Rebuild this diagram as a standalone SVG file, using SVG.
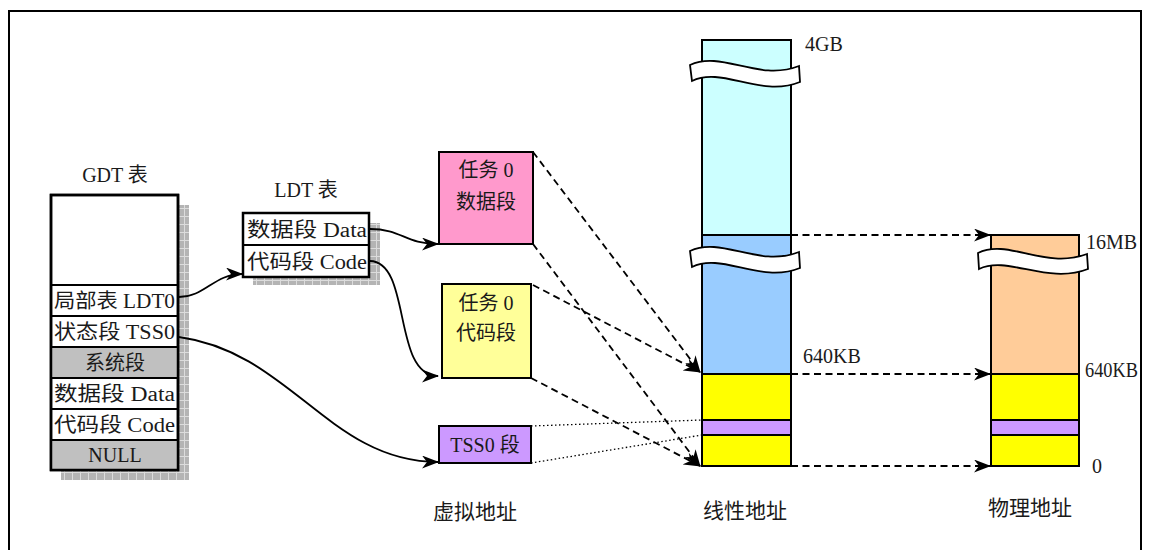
<svg xmlns="http://www.w3.org/2000/svg" width="1151" height="550" viewBox="0 0 1151 550">
<style>
text{font-family:'Liberation Serif','Noto Sans CJK SC',serif;font-size:20px;fill:#1a1a1a}
.lbl{font-size:20px}
.bot{font-size:21px}
.box{stroke:#000;stroke-width:2.5}
.thin{stroke:#000;stroke-width:2}
.conn{fill:none;stroke:#000;stroke-width:1.8}
.dash{fill:none;stroke:#000;stroke-width:1.8;stroke-dasharray:7,4.5}
.dot{fill:none;stroke:#000;stroke-width:1.3;stroke-dasharray:1.5,2.5}
.brk{fill:#fff;stroke:#000;stroke-width:1.8}
</style>
<defs>
<pattern id="hatch" width="8" height="8" patternUnits="userSpaceOnUse">
<rect width="8" height="8" fill="#b4b4b4"/>
<path d="M0,0.5H8M0.5,0V8" stroke="#dcdcdc" stroke-width="1"/>
</pattern>
<marker id="ah" markerWidth="17" markerHeight="13" refX="16" refY="6.5" orient="auto" markerUnits="userSpaceOnUse">
<path d="M0,0 L17,6.5 L0,13 L5,6.5 Z" fill="#000"/>
</marker>
</defs>
<rect x="9" y="11" width="1132" height="580" fill="none" stroke="#000" stroke-width="2"/>

<g id="gdt">
<text x="115" y="182" text-anchor="middle">GDT 表</text>
<rect x="61" y="205" width="128" height="275" fill="url(#hatch)"/>
<rect x="51" y="195" width="127" height="275" fill="#fff" class="box"/>
<rect x="51" y="347" width="127" height="31" fill="#c0c0c0"/>
<rect x="51" y="440" width="127" height="30" fill="#c0c0c0"/>
<path d="M51,285H178M51,316H178M51,347H178M51,378H178M51,409H178M51,440H178" class="thin" fill="none"/>
<rect x="51" y="195" width="127" height="275" fill="none" class="box"/>
<text x="54" y="308" textLength="121" lengthAdjust="spacingAndGlyphs">局部表 LDT0</text>
<text x="54" y="339" textLength="121" lengthAdjust="spacingAndGlyphs">状态段 TSS0</text>
<text x="115" y="370" text-anchor="middle">系统段</text>
<text x="54" y="401" textLength="121" lengthAdjust="spacingAndGlyphs">数据段 Data</text>
<text x="54" y="432" textLength="121" lengthAdjust="spacingAndGlyphs">代码段 Code</text>
<text x="115" y="462" text-anchor="middle">NULL</text>
</g>

<g id="ldt">
<text x="306" y="197" text-anchor="middle">LDT 表</text>
<rect x="253" y="223" width="127" height="62" fill="url(#hatch)"/>
<rect x="243" y="213" width="126" height="64" fill="#fff" class="box"/>
<path d="M243,245H369" class="thin"/>
<text x="247" y="237" textLength="120" lengthAdjust="spacingAndGlyphs">数据段 Data</text>
<text x="247" y="269" textLength="120" lengthAdjust="spacingAndGlyphs">代码段 Code</text>
</g>

<g id="task0-data">
<rect x="439" y="152" width="94" height="92" fill="#ff99cc" stroke="#000" stroke-width="2"/>
<text x="486" y="177" text-anchor="middle">任务 0</text>
<text x="486" y="209" text-anchor="middle">数据段</text>
</g>
<g id="task0-code">
<rect x="442" y="284" width="89" height="94" fill="#ffff99" stroke="#000" stroke-width="2"/>
<text x="486" y="310" text-anchor="middle">任务 0</text>
<text x="486" y="340" text-anchor="middle">代码段</text>
</g>
<g id="tss0">
<rect x="439" y="426" width="92" height="37" fill="#cc99ff" stroke="#000" stroke-width="2"/>
<text x="485" y="452" text-anchor="middle">TSS0 段</text>
</g>

<g id="linear">
<rect x="702" y="40" width="89" height="195" fill="#ccffff"/>
<rect x="702" y="235" width="89" height="139" fill="#99ccff"/>
<rect x="702" y="374" width="89" height="46" fill="#ffff00"/>
<rect x="702" y="420" width="89" height="15" fill="#cc99ff"/>
<rect x="702" y="435" width="89" height="31" fill="#ffff00"/>
<path d="M702,235H791M702,374H791M702,420H791M702,435H791" class="thin"/>
<rect x="702" y="40" width="89" height="426" fill="none" class="thin"/>
<path class="brk" d="M690,65 C722,50 758,82 799,66 L800,82 C760,98 722,66 692,81 Z"/>
<path class="brk" d="M690,251 C722,236 758,268 799,252 L800,268 C760,284 722,252 692,267 Z"/>
<text x="805" y="51" class="lbl">4GB</text>
<text x="803" y="363" class="lbl">640KB</text>
<text x="745" y="518" text-anchor="middle" class="bot">线性地址</text>
</g>

<g id="physical">
<rect x="991" y="235" width="88" height="139" fill="#ffcc99"/>
<rect x="991" y="374" width="88" height="46" fill="#ffff00"/>
<rect x="991" y="420" width="88" height="15" fill="#cc99ff"/>
<rect x="991" y="435" width="88" height="31" fill="#ffff00"/>
<path d="M991,374H1079M991,420H1079M991,435H1079" class="thin"/>
<rect x="991" y="235" width="88" height="231" fill="none" class="thin"/>
<path class="brk" d="M978,253 C1008,238 1045,270 1087,254 L1088,269 C1047,285 1008,255 979,269 Z"/>
<text x="1086" y="249" class="lbl">16MB</text>
<text x="1085" y="377" class="lbl" textLength="53" lengthAdjust="spacingAndGlyphs">640KB</text>
<text x="1092" y="473" class="lbl">0</text>
<text x="1030" y="515" text-anchor="middle" class="bot">物理地址</text>
</g>

<g id="virtual-label">
<text x="475" y="519" text-anchor="middle" class="bot">虚拟地址</text>
</g>

<g id="connectors">
<path class="conn" marker-end="url(#ah)" d="M179,297 C205,297 214,274 242,274"/>
<path class="conn" marker-end="url(#ah)" d="M370,229 C402,229 405,244 438,244"/>
<path class="conn" marker-end="url(#ah)" d="M370,261 C412,262 392,376 438,376"/>
<path class="conn" marker-end="url(#ah)" d="M179,337 C290,352 330,462 438,462"/>
<path class="dash" marker-end="url(#ah)" d="M533,152 L700,372"/>
<path class="dash" marker-end="url(#ah)" d="M533,285 L700,372"/>
<path class="dash" marker-end="url(#ah)" d="M533,244 L700,466"/>
<path class="dash" marker-end="url(#ah)" d="M531,378 L700,466"/>
<path class="dot" d="M531,426 L702,420"/>
<path class="dot" d="M531,463 L702,435"/>
<path class="dash" marker-end="url(#ah)" d="M791,235 L990,235"/>
<path class="dash" marker-end="url(#ah)" d="M791,374 L990,374"/>
<path class="dash" marker-end="url(#ah)" d="M791,466 L990,466"/>
</g>
</svg>
